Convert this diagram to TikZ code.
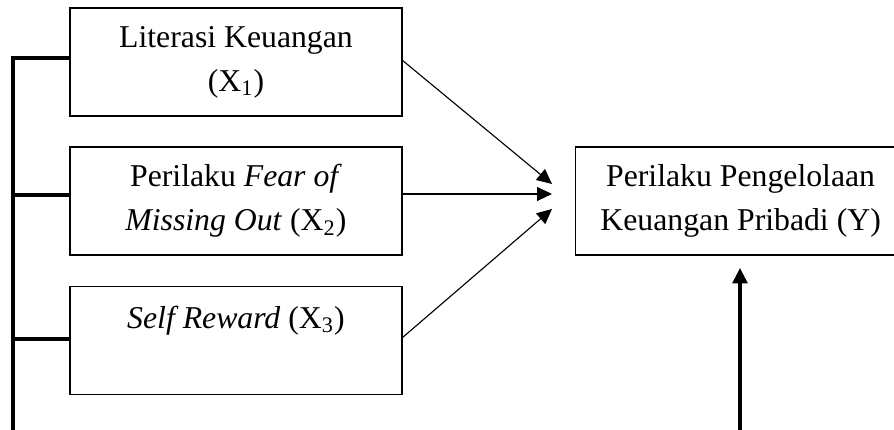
\documentclass[tikz,border=0pt]{standalone}
\usepackage{fontspec}
\setmainfont{Liberation Serif}
\usetikzlibrary{arrows.meta,calc}
\tikzset{
  varbox/.style={draw=black, line width=0.5pt, rectangle, align=center,
    minimum height=43.2pt, inner sep=2pt,
    font=\fontsize{12.7pt}{17.6pt}\selectfont},
  thin arrow/.style={line width=0.45pt, -{Triangle[length=6pt,width=5.6pt]}},
  thick arrow/.style={line width=1.3pt, -{Triangle[length=6.2pt,width=6pt]}},
  bracket/.style={line width=1.3pt}
}
\begin{document}
\begin{tikzpicture}[x=0.4pt,y=-0.4pt]
\clip (0,0) rectangle (894,430);
\fill[white] (0,0) rectangle (894,430);

\node[varbox, minimum width=132.8pt] (b1) at (236,62)
  {Literasi Keuangan\\(X\textsubscript{1})\rule[-1.2pt]{0pt}{1pt}};
\node[varbox, minimum width=132.8pt] (b2) at (236,201)
  {Perilaku \textit{Fear of}\\\textit{Missing Out} (X\textsubscript{2})\rule[-1.2pt]{0pt}{1pt}};
\node[varbox, minimum width=132.8pt] (b3) at (236,340.5)
  {\textit{Self Reward} (X\textsubscript{3})\\\rule[-1.2pt]{0pt}{1pt}};
\node[varbox, minimum width=140pt, anchor=west] (y) at (575,201)
  {Perilaku Pengelolaan\rule{8pt}{0pt}\\Keuangan Pribadi (Y)\rule[-1.2pt]{8pt}{0pt}\rule[-1.2pt]{0pt}{1pt}};

% arrow tips
\coordinate (t1) at (552,184);
\coordinate (t2) at (552,194);
\coordinate (t3) at (552,209);
\coordinate (s1) at (402,60);
\coordinate (s3) at (402,338);

\draw[thin arrow] (s1) -- (t1);
\draw[thin arrow] (b2.east |- t2) -- (t2);
\draw[thin arrow] (s3) -- (t3);

% left bracket
\coordinate (L1) at (13,58);
\coordinate (L2) at (13,195);
\coordinate (L3) at (13,339);
\coordinate (Lend) at (13,440);
\draw[bracket] (L1 -| b1.west) -- (L1) -- (Lend);
\draw[bracket] (L2) -- (L2 -| b2.west);
\draw[bracket] (L3) -- (L3 -| b3.west);

% vertical arrow into Y
\coordinate (vb) at (740,440);
\coordinate (vt) at (740,268);
\draw[thick arrow] (vb) -- (vt);
\end{tikzpicture}
\end{document}
